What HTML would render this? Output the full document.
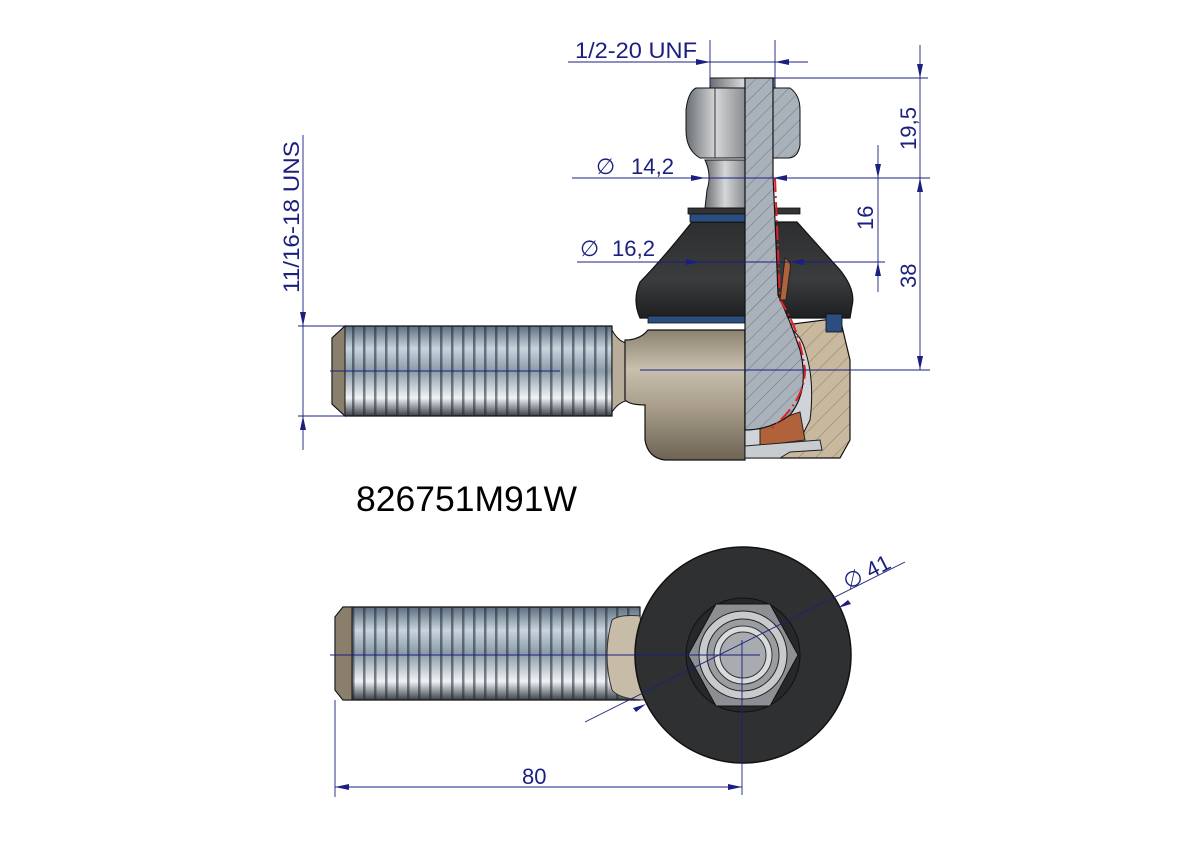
<!DOCTYPE html>
<html><head><meta charset="utf-8"><style>
html,body{margin:0;padding:0;background:#fff;}
svg{display:block;}
text{font-family:"Liberation Sans",sans-serif;fill:#1a1f80;}
</style></head><body>
<svg width="1191" height="842" viewBox="0 0 1191 842" xmlns="http://www.w3.org/2000/svg">
<defs>
<linearGradient id="thr" x1="0" y1="0" x2="0" y2="1">
<stop offset="0" stop-color="#5d6e80"/><stop offset="0.25" stop-color="#c8d4de"/><stop offset="0.5" stop-color="#8a9aa8"/><stop offset="0.8" stop-color="#f0f3f5"/><stop offset="1" stop-color="#3a4048"/>
</linearGradient>
<pattern id="rib" width="11" height="10" patternUnits="userSpaceOnUse">
<rect width="11" height="10" fill="none"/><rect x="0" width="2.5" height="10" fill="#1e2630" opacity="0.55"/>
</pattern>
<linearGradient id="tan" x1="0" y1="0" x2="0" y2="1">
<stop offset="0" stop-color="#8c8270"/><stop offset="0.3" stop-color="#c9bfae"/><stop offset="0.6" stop-color="#a89d8a"/><stop offset="1" stop-color="#6e6454"/>
</linearGradient>
<linearGradient id="boot" x1="0" y1="0" x2="0" y2="1">
<stop offset="0" stop-color="#2c2e30"/><stop offset="0.6" stop-color="#3a3c3e"/><stop offset="1" stop-color="#1e1f20"/>
</linearGradient>
<linearGradient id="metal" x1="0" y1="0" x2="1" y2="0">
<stop offset="0" stop-color="#6a6e72"/><stop offset="0.5" stop-color="#d4d6d8"/><stop offset="1" stop-color="#8a8e92"/>
</linearGradient>
<pattern id="hatch" width="10" height="10" patternUnits="userSpaceOnUse" patternTransform="rotate(45)">
<rect width="10" height="10" fill="#a9b1bb"/><line x1="0" y1="0" x2="0" y2="10" stroke="#5c6470" stroke-width="0.8"/>
</pattern>
<pattern id="hatchT" width="12" height="12" patternUnits="userSpaceOnUse" patternTransform="rotate(45)">
<rect width="12" height="12" fill="#c7b89e"/><line x1="0" y1="0" x2="0" y2="12" stroke="#7a6c58" stroke-width="0.8"/>
</pattern>
</defs>

<!-- ===== TOP VIEW ===== -->
<path d="M345,326 L612,326 L612,416 L345,416 L332,404 L332,338 Z" fill="url(#thr)" stroke="#111" stroke-width="1.2"/>
<rect x="345" y="326" width="267" height="90" fill="url(#rib)"/>
<path d="M345,326 L332,338 L332,404 L345,416 Z" fill="#8a7e6c" stroke="#111"/>
<path d="M612,330 Q620,345 632,343 L648,343 L648,400 L632,400 Q620,400 612,412 Z" fill="#b8ad9a" stroke="#111"/>
<path d="M625,340 Q640,340 648,330 L745,330 L745,460 L665,460 Q648,458 645,440 L645,405 Q630,405 625,400 Z" fill="url(#tan)" stroke="#111" stroke-width="1.2"/>
<path d="M745,330 L840,318 L850,360 L850,440 L840,458 L745,458 Z" fill="url(#hatchT)" stroke="#111" stroke-width="1.2"/>
<path d="M778,322 Q800,330 805,350 Q815,380 810,420 L800,440 L760,446 L745,446 L745,420 Z" fill="#d0d4d8" stroke="#111"/>
<path d="M760,425 L800,412 L805,440 L760,446 Z" fill="#b0623a" stroke="#222"/>
<path d="M745,446 L820,440 L822,450 L790,452 L780,458 L745,458 Z" fill="#c8ccd0" stroke="#222"/>
<path d="M692,222 L797,222 L840,270 Q856,290 852,306 L850,318 L640,318 Q632,300 640,282 Q660,262 692,222 Z" fill="url(#boot)" stroke="#111" stroke-width="1.2"/>
<rect x="648" y="316" width="97" height="7" fill="#2b4d80" stroke="#111" stroke-width="0.8"/>
<rect x="688" y="208" width="112" height="6" fill="#333" stroke="#111" stroke-width="0.8"/>
<rect x="690" y="214" width="57" height="8" fill="#2b4d80" stroke="#111" stroke-width="0.8"/>
<rect x="826" y="314" width="16" height="18" fill="#2b4d80" stroke="#111" stroke-width="0.8"/>
<path d="M705,160 L745,160 L745,208 L705,208 L707,190 Q712,175 705,160 Z" fill="url(#metal)" stroke="#111"/>
<rect x="710" y="78" width="65" height="14" fill="url(#metal)" stroke="#111"/>
<path d="M696,88 L745,88 L745,158 L700,158 Q686,150 686,130 L686,110 Q688,92 696,88 Z" fill="url(#metal)" stroke="#111"/>
<line x1="715" y1="88" x2="715" y2="158" stroke="#333"/>
<path d="M772,88 L790,88 Q800,95 800,110 L800,145 Q798,158 788,158 L772,158 Z" fill="url(#hatch)" stroke="#111"/>
<path d="M745,78 L773,78 L773,175 Q776,240 778,295 Q790,320 800,350 Q810,390 790,415 Q770,430 745,430 Z" fill="url(#hatch)" stroke="#111" stroke-width="1.2"/>
<path d="M775,178 Q778,250 780,300 Q800,330 805,370 Q805,400 772,428" fill="none" stroke="#e0202a" stroke-width="2" stroke-dasharray="14,4,2,4"/>
<path d="M785,258 Q792,262 790,270 L786,300 L780,300 Z" fill="#b0623a" stroke="#222"/>

<g stroke="#1a1f80" stroke-width="0.9" fill="none">
<line x1="568" y1="62" x2="808" y2="62"/>
<line x1="710" y1="40" x2="710" y2="85"/>
<line x1="775" y1="40" x2="775" y2="85"/>
<line x1="775" y1="78" x2="928" y2="78"/>
<line x1="572" y1="178" x2="930" y2="178"/>
<line x1="577" y1="262" x2="885" y2="262"/>
<line x1="640" y1="370" x2="930" y2="370"/>
<line x1="920" y1="45" x2="920" y2="370"/>
<line x1="878" y1="145" x2="878" y2="292"/>
<line x1="303" y1="135" x2="303" y2="450"/>
<line x1="298" y1="326" x2="345" y2="326"/>
<line x1="298" y1="416" x2="345" y2="416"/>
<line x1="330" y1="371" x2="560" y2="371"/>
</g>
<g stroke="none" fill="#1a1f80">
<path d="M710,62 l-14,-3 v6z"/><path d="M775,62 l14,-3 v6z"/>
<path d="M920,78 l-3,-14 h6z"/><path d="M920,178 l-3,14 h6z"/><path d="M920,370 l-3,-14 h6z"/>
<path d="M878,178 l-3,-14 h6z"/><path d="M878,262 l-3,14 h6z"/>
<path d="M705,178 l-14,-3 v6z"/><path d="M773,178 l14,-3 v6z"/>
<path d="M700,262 l-14,-3 v6z"/><path d="M790,262 l14,-3 v6z"/>
<path d="M303,326 l-3,-14 h6z"/><path d="M303,416 l-3,14 h6z"/>
</g>
<text x="575" y="58" font-size="22" textLength="122" lengthAdjust="spacingAndGlyphs">1/2-20 UNF</text>
<text x="596" y="174" font-size="22">∅</text>
<text x="631" y="174" font-size="22" textLength="43" lengthAdjust="spacingAndGlyphs">14,2</text>
<text x="580" y="256" font-size="22">∅</text>
<text x="612" y="256" font-size="22" textLength="43" lengthAdjust="spacingAndGlyphs">16,2</text>
<text x="0" y="0" font-size="22" transform="translate(916,150) rotate(-90)" textLength="43" lengthAdjust="spacingAndGlyphs">19,5</text>
<text x="0" y="0" font-size="22" transform="translate(916,288) rotate(-90)">38</text>
<text x="0" y="0" font-size="22" transform="translate(873,230) rotate(-90)">16</text>
<text x="0" y="0" font-size="22" transform="translate(299,293) rotate(-90)" textLength="152" lengthAdjust="spacingAndGlyphs">11/16-18 UNS</text>

<text x="356" y="511" font-size="35" textLength="221" lengthAdjust="spacingAndGlyphs" style="fill:#000">826751M91W</text>

<!-- ===== BOTTOM VIEW ===== -->
<path d="M343,607 L640,607 L640,700 L343,700 L335,690 L335,617 Z" fill="url(#thr)" stroke="#111" stroke-width="1.2"/>
<rect x="345" y="607" width="292" height="93" fill="url(#rib)"/>
<path d="M343,607 L335,617 L335,690 L343,700 L352,700 L352,607 Z" fill="#8a7e6c" stroke="#111"/>
<path d="M612,620 Q620,614 640,616 L650,700 Q620,700 612,690 Q602,655 612,620 Z" fill="#c7bca8" stroke="#333"/>
<circle cx="743" cy="655" r="108" fill="#2e3032" stroke="#111" stroke-width="1.5"/>
<circle cx="743" cy="655" r="57" fill="#26282a" stroke="#111"/>
<path d="M716,604 L770,604 L798,655 L770,706 L716,706 L688,655 Z" fill="#8c9094" stroke="#111"/>
<circle cx="743" cy="655" r="44" fill="#c8cacc" stroke="#222"/>
<circle cx="743" cy="655" r="36" fill="#9a9ea2" stroke="#222"/>
<circle cx="743" cy="655" r="29" fill="#d8dadc" stroke="#333"/>
<circle cx="743" cy="655" r="23" fill="#a8acb0" stroke="#333"/>
<g stroke="#1a1f80" stroke-width="0.9" fill="none">
<line x1="330" y1="655" x2="760" y2="655"/>
<line x1="742" y1="640" x2="742" y2="795"/>
<line x1="335" y1="700" x2="335" y2="797"/>
<line x1="335" y1="787" x2="742" y2="787"/>
<line x1="585" y1="722" x2="905" y2="562"/>
</g>
<g fill="#1a1f80">
<path d="M335,787 l14,-3 v6z"/><path d="M742,787 l-14,-3 v6z"/>
<path d="M646,704 l-13,4 3,4z"/><path d="M838,608 l13,-4 -3,-4z"/>
</g>
<text x="522" y="784" font-size="22">80</text>
<text x="0" y="0" font-size="22" transform="translate(848,590) rotate(-27)">∅ 41</text>
</svg>
</body></html>
